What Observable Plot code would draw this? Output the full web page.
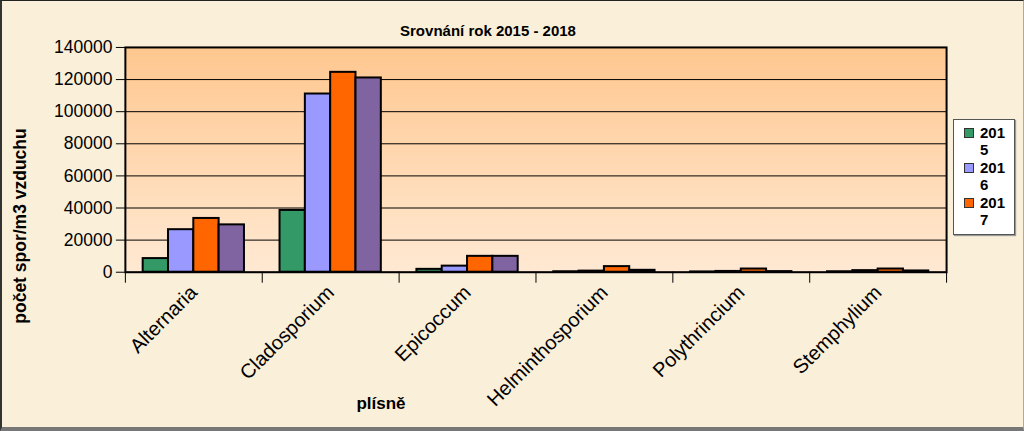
<!DOCTYPE html>
<html>
<head>
<meta charset="utf-8">
<script src="https://cdn.jsdelivr.net/npm/d3@7"></script>
<script src="https://cdn.jsdelivr.net/npm/@observablehq/plot@0.6"></script>
<style>
  html, body { margin: 0; padding: 0; }
  body { width: 1024px; height: 431px; overflow: hidden; background: #FAEFD9; font-family: Arial, "Liberation Sans", sans-serif; }
  #wrap { position: relative; width: 1024px; height: 431px; box-sizing: border-box;
          border-top: 1px solid #222; border-left: 2px solid #333; border-bottom: 4px solid #777; border-right: 1px solid #aaa; }
  #chart { position: absolute; left: -2px; top: -1px; }
  .title { position: absolute; top: 21px; left: 0; width: 972px; text-align: center; font-weight: bold; font-size: 15px; color: #000; }
  .ylabel { position: absolute; left: 18px; top: 225px; transform: translate(-50%, -50%) rotate(-90deg); white-space: nowrap; font-weight: bold; font-size: 17.5px; }
  .xlabel { position: absolute; left: 379px; top: 393px; transform: translateX(-50%); font-weight: bold; font-size: 17px; }
  .legend { position: absolute; left: 951px; top: 118px; width: 62px; height: 116px; box-sizing: border-box; background: #fff;
            border: 1px solid #555; box-shadow: 1px 1px 1px #999; padding: 4px 0 0 10px; }
  .legend .item { display: flex; align-items: flex-start; font-weight: bold; font-size: 15px; line-height: 17px; margin-bottom: 1px; }
  .legend .sw { width: 8px; height: 8px; border: 1px solid #333; margin: 4px 6px 0 0; flex: none; }
  .legend .lab { width: 28px; word-break: break-all; }
</style>
</head>
<body>
<div id="wrap">
  <div id="chart"></div>
  <div class="title">Srovnání rok 2015 - 2018</div>
  <div class="ylabel">počet spor/m3 vzduchu</div>
  <div class="xlabel">plísně</div>
  <div class="legend" id="legend"></div>
</div>
<script>
const categories = ["Alternaria", "Cladosporium", "Epicoccum", "Helminthosporium", "Polythrincium", "Stemphylium"];
const years = ["2015", "2016", "2017", "2018"];
const values2015 = [8500, 38500, 1800, 300, 200, 300];
const values2016 = [26500, 111000, 3800, 700, 500, 1000];
const values2017 = [33500, 124500, 9900, 3500, 2000, 2000];
const values2018 = [29500, 121000, 9900, 1200, 400, 800];
const yTicks = [0, 20000, 40000, 60000, 80000, 100000, 120000, 140000];
const colors = ["#339966", "#9999FF", "#FF6600", "#8064A2"];
const legendYears = ["2015", "2016", "2017"];

const series = [values2015, values2016, values2017, values2018];
const groupFrac = 0.74;           // fraction of each category slot used by the bar group
const barFrac = groupFrac / years.length;
const rows = [];
categories.forEach((c, i) => {
  years.forEach((y, j) => {
    const x1 = i + (1 - groupFrac) / 2 + j * barFrac;
    rows.push({category: c, year: y, value: series[j][i], x1, x2: x1 + barFrac});
  });
});
const boundaries = d3.range(categories.length + 1);
const centers = categories.map((c, i) => i + 0.5);

const chart = Plot.plot({
  width: 1024,
  height: 431,
  marginLeft: 125,
  marginRight: 77,
  marginTop: 47,
  marginBottom: 159,
  style: {background: "transparent", fontFamily: "Arial, 'Liberation Sans', sans-serif", fontSize: "17px", color: "#000"},
  x: {domain: [0, categories.length], axis: null},
  y: {domain: [0, 140000], axis: null},
  color: {domain: years, range: colors},
  marks: [
    Plot.frame({fill: "url(#plotbg)", stroke: null}),
    Plot.gridY(yTicks, {stroke: "#000", strokeOpacity: 1, strokeWidth: 1}),
    Plot.rectY(rows, {x1: "x1", x2: "x2", y: "value", fill: "year", stroke: "#000", strokeWidth: 2}),
    Plot.frame({stroke: "#000", strokeWidth: 2}),
    Plot.axisY(yTicks, {tickSize: 9, tickPadding: 4, tickFormat: d3.format("d"), fontSize: 17.5, label: null, stroke: "#000"}),
    Plot.axisX(boundaries, {tickSize: 11, tickFormat: () => "", label: null, stroke: "#000"}),
    Plot.axisX(centers, {tickSize: 0, tickPadding: 17, tickRotate: -45, tickFormat: d => categories[Math.floor(d)], fontSize: 20, label: null})
  ]
});

// vertical gradient for the plot area background
const svgNS = "http://www.w3.org/2000/svg";
const defs = document.createElementNS(svgNS, "defs");
const grad = document.createElementNS(svgNS, "linearGradient");
grad.setAttribute("id", "plotbg");
grad.setAttribute("x1", "0"); grad.setAttribute("y1", "0");
grad.setAttribute("x2", "0"); grad.setAttribute("y2", "1");
[["0", "#FFC78F"], ["1", "#FFE9D3"]].forEach(([o, c]) => {
  const s = document.createElementNS(svgNS, "stop");
  s.setAttribute("offset", o); s.setAttribute("stop-color", c);
  grad.appendChild(s);
});
defs.appendChild(grad);
chart.insertBefore(defs, chart.firstChild);
document.getElementById("chart").appendChild(chart);

const legend = document.getElementById("legend");
legendYears.forEach(y => {
  const item = document.createElement("div");
  item.className = "item";
  const sw = document.createElement("div");
  sw.className = "sw";
  sw.style.background = colors[years.indexOf(y)];
  const lab = document.createElement("div");
  lab.className = "lab";
  lab.textContent = y;
  item.appendChild(sw); item.appendChild(lab);
  legend.appendChild(item);
});
</script>
</body>
</html>
